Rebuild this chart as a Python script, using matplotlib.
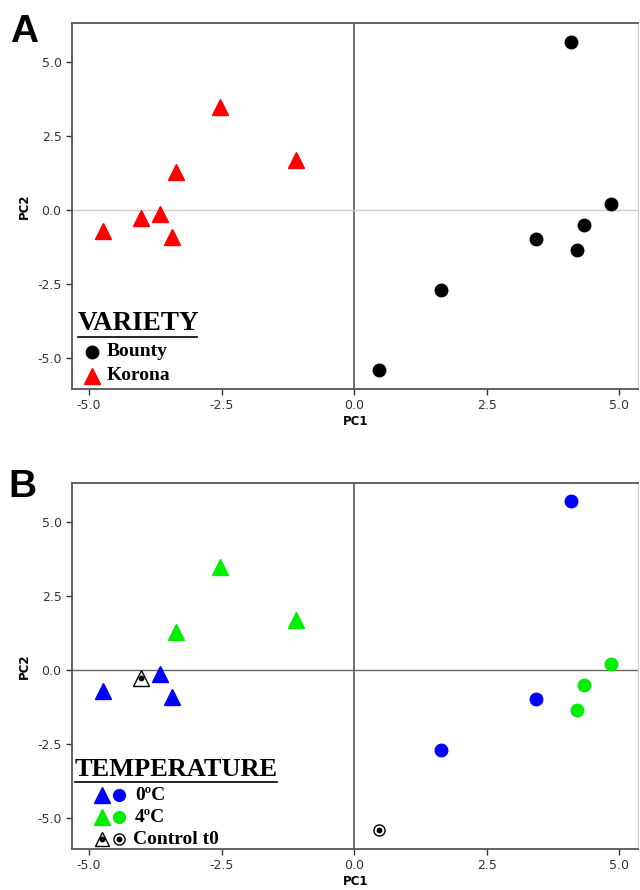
import matplotlib.pyplot as plt

# PCA scores
korona_pc1 = [-4.74, -4.02, -3.66, -3.43, -3.36, -2.53, -1.09]
korona_pc2 = [-0.70, -0.27, -0.14, -0.92, 1.29, 3.47, 1.69]
korona_temp = ['0', 'ctrl', '0', '0', '4', '4', '4']

bounty_pc1 = [4.09, 4.84, 4.33, 3.43, 4.21, 1.64, 0.46]
bounty_pc2 = [5.69, 0.19, -0.52, -0.99, -1.35, -2.71, -5.42]
bounty_temp = ['0', '4', '4', '0', '4', '0', 'ctrl']

x_ticks = [-5.0, -2.5, 0.0, 2.5, 5.0]
y_ticks = [-5.0, -2.5, 0.0, 2.5, 5.0]

temp_colors = {'0': '#0000ff', '4': '#00ee00'}

SERIF = 'Liberation Serif'
TICK_COLOR = '#333333'


def setup_axes(ax, hline_color):
    ax.set_xlim(-5.32, 5.36)
    ax.set_ylim(-6.05, 6.32)
    ax.set_xticks(x_ticks)
    ax.set_yticks(y_ticks)
    ax.set_xticklabels([f'{v:.1f}' for v in x_ticks])
    ax.set_yticklabels([f'{v:.1f}' for v in y_ticks])
    ax.tick_params(direction='out', length=4, width=1, colors=TICK_COLOR,
                   labelsize=9, pad=3.5)
    for side in ['left', 'bottom', 'top']:
        ax.spines[side].set_color('#555555')
        ax.spines[side].set_linewidth(1.3)
    ax.spines['right'].set_color('#cccccc')
    ax.spines['right'].set_linewidth(0.8)
    ax.axvline(0, color='#666666', lw=1.3, zorder=1)
    ax.axhline(0, color=hline_color, lw=1.0, zorder=1)
    ax.set_xlabel('PC1', fontsize=8.5, fontweight='bold')
    ax.set_ylabel('PC2', fontsize=8.5, fontweight='bold')
    ax.xaxis.set_label_coords(0.5, -0.072)
    ax.yaxis.set_label_coords(-0.073, 0.5)


def control_marker(ax, x, y, marker, size, **kw):
    ax.plot(x, y, marker=marker, ms=size, mfc='white', mec='black', mew=1.0,
            ls='none', zorder=3, **kw)
    ax.plot(x, y, marker='o', ms=3.2, mfc='black', mec='black',
            ls='none', zorder=4, **kw)


fig = plt.figure(figsize=(6.4, 8.9), dpi=100)
axA = fig.add_axes([0.1125, 0.563, 0.885, 0.411])
axB = fig.add_axes([0.1125, 0.046, 0.885, 0.4116])

# ---- Panel A: variety
setup_axes(axA, '#cccccc')
axA.plot(bounty_pc1, bounty_pc2, 'o', ms=9, color='black', ls='none', zorder=3)
axA.plot(korona_pc1, korona_pc2, '^', ms=12, color='#ff0000', ls='none', zorder=3)

axA.text(0.0106, 0.178, 'VARIETY', transform=axA.transAxes, family=SERIF,
         fontsize=19.5, fontweight='bold', va='center', ha='left')
axA.plot([0.0106, 0.221], [0.142, 0.142], color='black', lw=1.2,
         transform=axA.transAxes, clip_on=False)
axA.plot([0.035], [0.101], 'o', ms=9, color='black', transform=axA.transAxes,
         clip_on=False)
axA.text(0.062, 0.101, 'Bounty', transform=axA.transAxes, family=SERIF,
         fontsize=14, fontweight='bold', va='center')
axA.plot([0.035], [0.036], '^', ms=12, color='#ff0000',
         transform=axA.transAxes, clip_on=False)
axA.text(0.062, 0.036, 'Korona', transform=axA.transAxes, family=SERIF,
         fontsize=14, fontweight='bold', va='center')

# ---- Panel B: temperature
setup_axes(axB, '#666666')
for x, y, t in zip(korona_pc1, korona_pc2, korona_temp):
    if t == 'ctrl':
        control_marker(axB, x, y, '^', 11)
    else:
        axB.plot(x, y, '^', ms=12, color=temp_colors[t], ls='none', zorder=3)
for x, y, t in zip(bounty_pc1, bounty_pc2, bounty_temp):
    if t == 'ctrl':
        control_marker(axB, x, y, 'o', 8)
    else:
        axB.plot(x, y, 'o', ms=9, color=temp_colors[t], ls='none', zorder=3)

axB.text(0.0053, 0.218, 'TEMPERATURE', transform=axB.transAxes, family=SERIF,
         fontsize=19, fontweight='bold', va='center', ha='left')
axB.plot([0.0053, 0.362], [0.184, 0.184], color='black', lw=1.2,
         transform=axB.transAxes, clip_on=False)
rows = [('0ºC', temp_colors['0'], 0.147), ('4ºC', temp_colors['4'], 0.087)]
for label, col, yy in rows:
    axB.plot([0.053], [yy], '^', ms=12, color=col, transform=axB.transAxes,
             clip_on=False)
    axB.plot([0.083], [yy], 'o', ms=8.5, color=col, transform=axB.transAxes,
             clip_on=False)
    axB.text(0.111, yy, label, transform=axB.transAxes, family=SERIF,
             fontsize=14, fontweight='bold', va='center')
control_marker(axB, [0.053], [0.027], '^', 10.5, transform=axB.transAxes,
               clip_on=False)
control_marker(axB, [0.083], [0.027], 'o', 8, transform=axB.transAxes,
               clip_on=False)
axB.text(0.108, 0.027, 'Control t0', transform=axB.transAxes, family=SERIF,
         fontsize=14, fontweight='bold', va='center')

# panel letters
fig.text(0.015, 0.984, 'A', fontsize=28, fontweight='bold',
         family='Liberation Sans', va='top')
fig.text(0.013, 0.473, 'B', fontsize=28, fontweight='bold',
         family='Liberation Sans', va='top')

fig.savefig('out.png', dpi=100)
